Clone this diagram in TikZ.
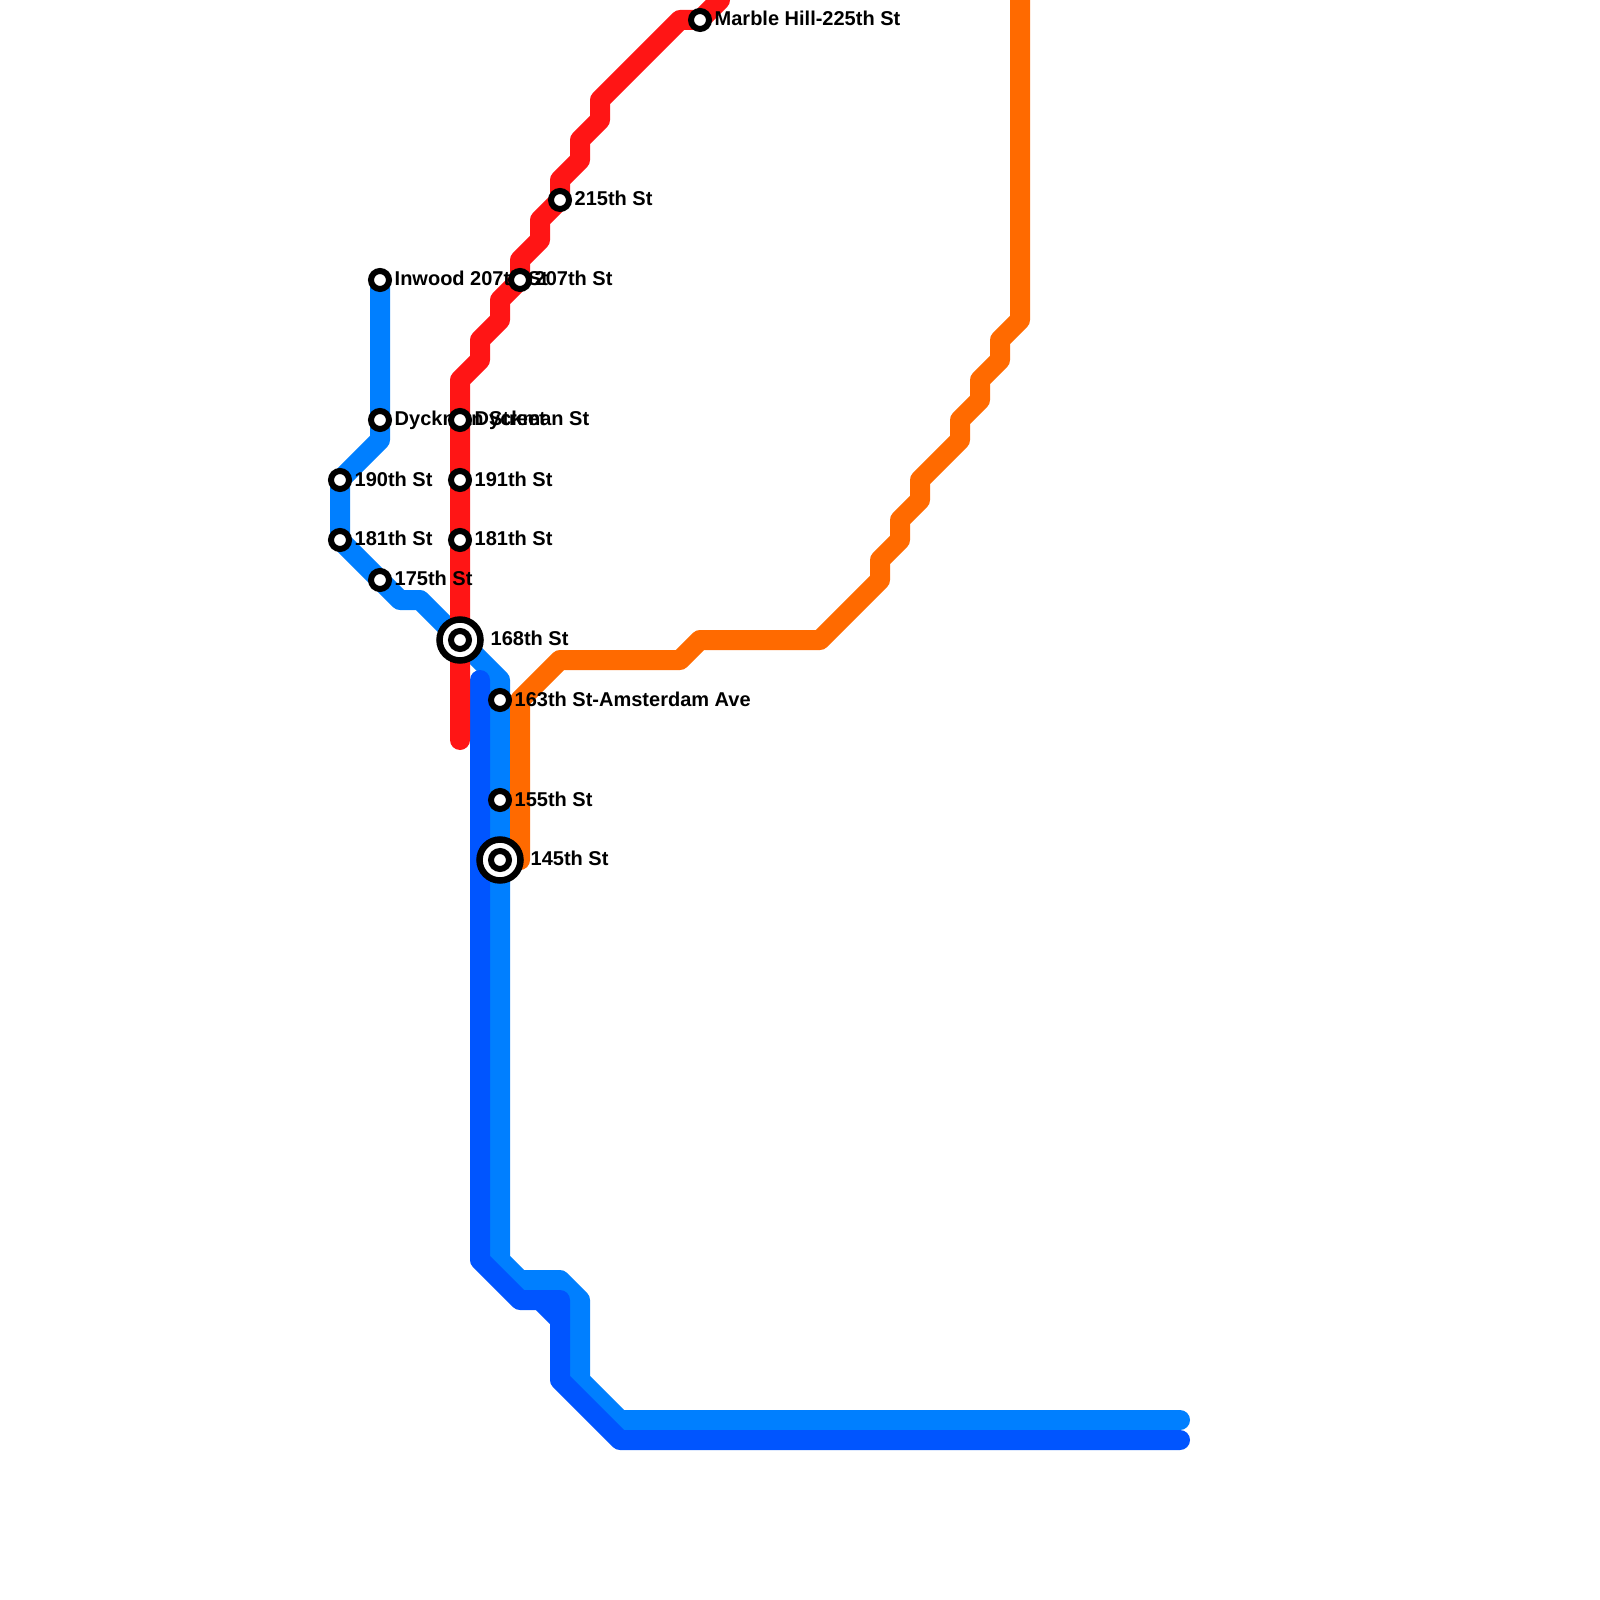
\documentclass[tikz,border=0pt]{standalone}
\usepackage{fontspec}
\setmainfont{Liberation Sans}
\usepackage{xcolor}
\usepackage{tikz}
\usetikzlibrary{backgrounds}
\definecolor{lineLight}{HTML}{007FFF}
\definecolor{lineDark}{HTML}{0055FF}
\definecolor{lineRed}{HTML}{FF1515}
\definecolor{lineOrange}{HTML}{FF6A00}

\begin{document}
\begin{tikzpicture}[x=1cm, y=-1cm,
  route/.style={line width=2mm,line join=round,line cap=round},
  stop/.style={circle,draw,fill=white,line width=0.6mm,minimum size=1.8mm,inner sep=0pt},
  hub/.style={circle,draw,fill=white,line width=0.65mm,minimum size=4.1mm,inner sep=0pt},
  stoplabel/.style={anchor=base west,inner sep=0pt,font=\bfseries\fontsize{5.69pt}{7pt}\selectfont}]
\useasboundingbox (0,0) rectangle (16,16);
% ordinary stations, each label under the later circles
\foreach \nm/\x/\y/\txt in {
  inwood/3.8/2.8/Inwood 207th St,
  dyckmanA/3.8/4.2/Dyckman Street,
  st190/3.4/4.8/190th St,
  st181A/3.4/5.4/181th St,
  st175/3.8/5.8/175th St,
  st163/5.0/7.0/163th St-Amsterdam Ave,
  st155/5.0/8.0/155th St,
  marble/7.0/0.2/Marble Hill-225th St,
  st215/5.6/2.0/215th St,
  st207/5.2/2.8/207th St,
  dyckmanB/4.6/4.2/Dyckman St,
  st191/4.6/4.8/191th St,
  st181B/4.6/5.4/181th St}{
  \node[stoplabel] (\nm-text) at (\x+0.14,\y+0.06) {\txt};
  \node[stop] (\nm) at (\x,\y) {};
}
% interchanges
\node[stoplabel] (st168-text) at (4.9,6.45) {168th St};
\node[hub] (hub168) at (4.6,6.4) {};
\node[stop] (st168) at (4.6,6.4) {};
\node[stoplabel] (st145-text) at (5.3,8.65) {145th St};
\node[hub] (hub145) at (5.0,8.6) {};
\node[stop] (st145) at (5.0,8.6) {};
\begin{pgfonlayer}{background}
  \draw[route,lineLight] (inwood.center) -- (dyckmanA.center) -- (3.8,4.4) -- (st190.center)
    -- (st181A.center) -- (st175.center) -- (4.0,6.0) -- (4.2,6.0) -- (st168.center)
    -- (5.0,6.8) -- (st163.center) -- (st155.center) -- (st145.center) -- (5.0,12.6)
    -- (5.2,12.8) -- (5.6,12.8) -- (5.8,13.0) -- (5.8,13.8) -- (6.2,14.2) -- (11.8,14.2);
  \draw[route,lineDark] (4.8,6.8) -- (4.8,12.6) -- (5.2,13.0) -- (5.6,13.0) -- (5.6,13.8)
    -- (6.2,14.4) -- (11.8,14.4);
  \draw[route,lineDark] (5.4,13.0) -- (5.6,13.2);
  \draw[route,lineOrange] (5.2,8.6) -- (5.2,7.0) -- (5.6,6.6) -- (6.8,6.6) -- (7.0,6.4)
    -- (8.2,6.4) -- (8.8,5.8) -- (8.8,5.6) -- (9.0,5.4) -- (9.0,5.2) -- (9.2,5.0) -- (9.2,4.8)
    -- (9.6,4.4) -- (9.6,4.2) -- (9.8,4.0) -- (9.8,3.8) -- (10.0,3.6) -- (10.0,3.4) -- (10.2,3.2)
    -- (10.2,0);
  \draw[route,lineRed] (4.6,7.4) -- (st168.center) -- (st181B.center) -- (st191.center)
    -- (dyckmanB.center) -- (4.6,3.8) -- (4.8,3.6) -- (4.8,3.4) -- (5.0,3.2) -- (5.0,3.0)
    -- (st207.center) -- (5.2,2.6) -- (5.4,2.4) -- (5.4,2.2) -- (st215.center) -- (5.6,1.8)
    -- (5.8,1.6) -- (5.8,1.4) -- (6.0,1.2) -- (6.0,1.0) -- (6.8,0.2) -- (marble.center) -- (7.2,0);
\end{pgfonlayer}
\end{tikzpicture}
\end{document}
